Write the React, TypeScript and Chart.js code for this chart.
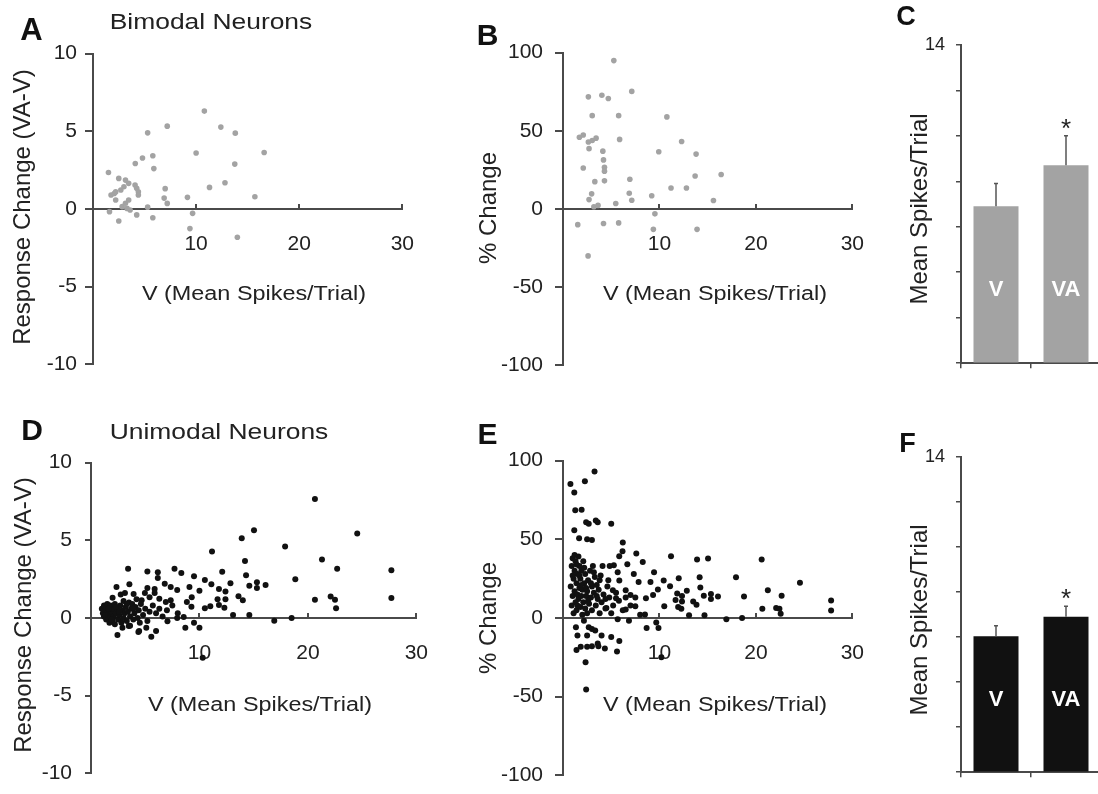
import React, { useEffect, useRef } from "react";
import { Chart, registerables } from "chart.js";
Chart.register(...registerables);

const FONT = "'Liberation Sans', Arial, Helvetica, sans-serif";
const TEXT = "#222";
const AXIS = "#4a4a4a";
const GRAY = "#a3a3a3";
const BLACK = "#111";

// ---------- DATA ----------
// Panel A: bimodal neurons, V (mean spikes/trial) vs response change (VA-V)
const bimodalChange: [number, number][] = [
  [1.5, 2.35], [1.6, -0.17], [1.75, 0.9], [2.06, 1.0], [2.2, 1.1], [2.2, 0.58], [2.5, 1.97], [2.5, -0.77],
  [2.7, 1.22], [2.83, 0.15], [3.0, 1.43], [3.15, 1.86], [3.15, 0.37], [3.3, 0.04], [3.46, 1.65], [3.46, 0.58],
  [3.6, -0.06], [4.08, 1.54], [4.1, 2.93], [4.24, 1.33], [4.24, -0.38], [4.4, 1.11], [4.4, 0.9], [4.8, 3.28],
  [5.3, 4.9], [5.3, 0.12], [5.8, 3.43], [5.8, -0.56], [5.9, 2.6], [6.9, 0.7], [7.0, 1.31], [7.2, 5.33],
  [7.2, 0.36], [9.16, 0.75], [9.4, -1.26], [9.66, -0.28], [10.0, 3.6], [10.8, 6.3], [11.3, 1.39], [12.4, 5.27],
  [12.8, 1.69], [13.75, 2.89], [13.8, 4.88], [14.0, -1.82], [15.7, 0.79], [16.6, 3.64],
];

// Panel B: bimodal neurons, V vs % change
const bimodalPct: [number, number][] = [
  [1.53, -10], [1.7, 45.9], [2.1, 47.3], [2.1, 26.2], [2.6, -30], [2.63, 71.7], [2.63, 42.8], [2.7, 38.6],
  [2.7, 6.0], [2.97, 9.7], [3.03, 59.7], [3.03, 43.8], [3.2, 1.4], [3.3, 17.5], [3.43, 45.3], [3.63, 2.3],
  [4.03, 72.7], [4.13, 37.0], [4.2, 31.4], [4.2, -9.3], [4.3, 26.7], [4.3, 24.2], [4.3, 18.0], [4.7, 70.7],
  [5.27, 94.9], [5.47, 3.5], [5.77, 59.7], [5.77, -8.9], [5.87, 44.5], [6.87, 10.1], [6.93, 19.0], [7.13, 75.2],
  [7.13, 5.6], [9.2, 8.5], [9.37, -13.0], [9.53, -3.1], [9.93, 36.6], [10.77, 58.9], [11.2, 13.4], [12.3, 43.2],
  [12.8, 13.4], [13.7, 21.1], [13.8, 35.1], [13.9, -13.0], [15.6, 5.4], [16.4, 22.1],
];

// Panel D: unimodal neurons, V vs response change (VA-V)
const unimodalChange: [number, number][] = [
  [20.65, 7.66], [24.55, 5.44], [15.03, 5.65], [13.9, 5.13], [11.16, 4.28], [17.9, 4.6], [21.3, 3.77], [22.7, 3.17],
  [27.7, 3.08], [14.2, 3.66], [12.1, 2.98], [14.3, 2.75], [18.84, 2.5], [11.1, 2.17], [12.86, 2.24], [14.6, 2.07],
  [15.3, 2.3], [15.3, 1.93], [16.1, 2.13], [11.8, 1.86], [12.4, 1.7], [11.67, 1.2], [12.4, 1.2], [13.6, 1.4],
  [14.0, 1.14], [20.65, 1.18], [22.1, 1.39], [22.5, 1.18], [22.6, 0.62], [27.7, 1.28], [11.8, 0.83], [11.0, 0.76],
  [12.3, 0.66], [13.1, 0.2], [14.6, 0.2], [16.9, -0.17], [18.5, 0.0], [10.3, -2.55],
  [3.42, 3.17], [5.2, 3.0], [6.16, 2.94], [7.7, 3.17], [8.33, 2.9], [9.5, 2.69], [6.16, 2.58], [10.5, 2.44],
  [2.35, 2.0], [3.54, 2.17], [6.8, 2.21], [7.35, 2.0], [7.95, 1.8], [9.08, 2.0], [10.0, 1.76], [5.2, 1.93],
  [5.87, 1.86], [4.97, 1.61], [5.87, 1.61], [2.74, 1.51], [3.13, 1.61], [3.93, 1.55], [9.29, 1.34], [8.84, 1.03],
  [10.5, 0.62], [9.26, 0.72], [6.3, 1.24], [6.9, 1.03], [7.35, 1.14], [5.4, 1.34], [4.67, 1.14], [1.99, 1.3],
  [2.44, -1.1], [4.44, -0.83], [5.1, -0.62], [5.56, -1.2], [6.0, -0.83], [8.7, -0.62], [9.5, -0.31], [10.0, -0.62],
  [7.05, -0.21], [7.95, 0.0], [8.55, 0.06], [3.48, -0.52], [2.9, -0.62], [4.37, -0.9],
  [1.0, 0.6], [1.1, 0.3], [1.2, 0.8], [1.2, 0.1], [1.3, 0.5], [1.4, -0.1], [1.4, 0.7], [1.5, 0.3],
  [1.5, 0.9], [1.6, 0.0], [1.7, 0.5], [1.7, -0.3], [1.8, 0.2], [1.8, 0.8], [1.9, 0.4], [2.0, -0.2],
  [2.0, 0.6], [2.1, 0.1], [2.2, 0.9], [2.2, -0.4], [2.3, 0.3], [2.4, 0.6], [2.5, -0.1], [2.6, 0.2],
  [2.7, 0.8], [2.8, -0.3], [2.9, 0.5], [3.0, 0.0], [3.0, 1.1], [3.1, 0.3], [3.2, 0.7], [3.3, -0.2],
  [3.4, 0.4], [3.5, 1.0], [3.6, 0.1], [3.6, -0.5], [3.7, 0.6], [3.8, 0.9], [3.9, -0.1], [4.0, 0.3],
  [4.1, 0.7], [4.2, 1.2], [4.3, 0.0], [4.4, 0.5], [4.6, 0.9], [4.8, 0.2], [5.0, 0.6], [5.2, -0.2],
  [5.4, 0.4], [5.7, 0.8], [6.0, 0.3], [6.3, 0.6], [6.6, 0.1], [7.0, 0.5], [7.5, 0.8], [8.0, 0.3],
  [1.3, 0.2], [1.6, 0.6], [1.9, -0.1], [2.3, 0.7], [2.6, 0.4], [3.3, 0.9], [3.9, 0.6], [4.5, -0.3],
];

// Panel E: unimodal neurons, V vs % change
const unimodalPct: [number, number][] = [
  [3.27, 93.1], [2.27, 86.9], [0.77, 85.1], [1.17, 79.8], [1.27, 68.4], [1.93, 68.7], [2.4, 60.9], [2.67, 59.8],
  [3.4, 61.9], [3.6, 60.9], [5.0, 59.8], [1.17, 55.7], [1.67, 50.6], [2.5, 50.0], [3.0, 49.6], [6.2, 47.9],
  [6.17, 42.4], [7.6, 40.9], [11.2, 39.3], [8.27, 35.6], [5.83, 39.3], [5.27, 33.5], [6.67, 34.2], [4.84, 33.1],
  [9.44, 29.0], [5.67, 29.0], [7.34, 28.0], [10.44, 23.9], [9.07, 22.8], [7.84, 22.8], [5.84, 23.9], [11.1, 20.2],
  [9.84, 18.1], [8.6, 12.6], [9.34, 14.6], [10.5, 7.4], [7.5, 7.4], [6.5, 5.4], [4.5, 6.4], [5.5, 12.6],
  [6.5, 17.7], [5.17, 17.7], [7.0, 14.6], [8.5, 2.3], [6.84, -1.8], [5.67, -0.8], [8.67, -6.3], [9.67, -2.8],
  [9.9, -6.3], [10.2, -25],
  [1.34, -5.9], [1.5, -11.1], [2.67, -5.9], [3.0, -7.0], [2.5, -11.1], [3.34, -8.0], [4.0, -11.1], [5.0, -12.1],
  [3.6, -16.2], [5.84, -14.6], [1.4, -20.3], [1.84, -18.3], [2.5, -18.3], [3.0, -17.9], [3.67, -17.9], [4.34, -19.3],
  [5.6, -21.3], [2.34, -28.1], [2.4, -45.4], [2.17, -1.8],
  [13.9, 37.2], [15.04, 37.8], [20.6, 37.2], [12.0, 25.3], [14.17, 25.9], [17.94, 25.9], [24.57, 22.4], [14.24, 19.4],
  [12.84, 17.3], [21.24, 17.7], [11.84, 15.6], [12.34, 14.0], [14.6, 14.2], [15.34, 15.2], [15.34, 12.1], [16.07, 13.6],
  [18.77, 13.6], [22.67, 14.2], [27.8, 11.1], [27.8, 4.7], [11.67, 11.5], [12.34, 10.5], [13.5, 10.5], [13.84, 8.4],
  [11.94, 7.0], [12.27, 5.8], [20.67, 5.8], [22.1, 6.4], [22.44, 5.8], [22.57, 2.7], [13.07, 1.8], [14.67, 1.7],
  [16.94, -0.8], [18.57, 0.0],
  [0.8, 20], [0.9, 8], [0.9, 33], [1.0, 14], [1.0, 38], [1.1, 3], [1.1, 25], [1.2, 17],
  [1.2, 30], [1.3, 36], [1.3, 10], [1.4, 22], [1.4, 5], [1.5, 28], [1.5, 15], [1.6, 39],
  [1.6, 12], [1.7, 19], [1.7, 33], [1.8, 7], [1.8, 25], [1.9, 14], [1.9, 30], [2.0, 2],
  [2.0, 18], [2.1, 36], [2.1, 10], [2.2, 22], [2.3, 6], [2.3, 28], [2.4, 14], [2.5, 17],
  [2.5, 3], [2.6, 24], [2.7, 9], [2.8, 30], [2.9, 13], [3.0, 20], [3.0, 5], [3.1, 33],
  [3.2, 16], [3.3, 26], [3.4, 8], [3.5, 21], [3.6, 12], [3.7, 18], [3.8, 3], [3.9, 27],
  [4.0, 10], [4.2, 15], [4.4, 6], [4.6, 20], [4.8, 13], [5.0, 3], [5.2, 8], [5.5, 16],
  [5.8, 11], [6.2, 5], [6.5, 13], [7.0, 8], [7.5, 13], [8.0, 2],
  [1.0, 27], [1.2, 40], [1.4, 34], [1.5, 8], [1.7, 27], [1.9, 21], [2.2, 32], [2.4, 19],
  [2.6, 11], [2.9, 22], [3.2, 29], [3.5, 14], [3.8, 24], [4.1, 33], [4.4, 12], [4.7, 24],
];

// Panels C and F: mean spikes/trial
const barCategories = ["V", "VA"];
const bimodalMeans = [6.9, 8.7];
const bimodalErrTop = [7.9, 10.0];
const unimodalMeans = [6.03, 6.9];
const unimodalErrTop = [6.5, 7.37];
const significance = ["", "*"];

// ---------- CHART HELPERS ----------
type Box = { L: number; R: number; T: number; B: number };
const WY = 80;
const PAD = { top: 20, bottom: 20, left: 0, right: 30 };

function ChartCanvas({ left, top, width, height, make }: { left: number; top: number; width: number; height: number; make: () => any }) {
  const ref = useRef<HTMLCanvasElement>(null);
  useEffect(() => {
    const chart = new Chart(ref.current as HTMLCanvasElement, make());
    return () => chart.destroy();
  }, []);
  return (
    <canvas ref={ref} width={width} height={height}
      style={{ position: "absolute", left, top, width, height }} />
  );
}

function Scatter({ box, points, color, radius, yMin, yMax, yStep, yTickLen, yTickPad }: {
  box: Box; points: [number, number][]; color: string; radius: number;
  yMin: number; yMax: number; yStep: number; yTickLen: number; yTickPad: number;
}) {
  const width = box.R - box.L + WY + PAD.left + PAD.right;
  const height = box.B - box.T + PAD.top + PAD.bottom;
  const make = () => ({
    type: "scatter",
    data: {
      datasets: [{
        data: points.map(([x, y]) => ({ x, y })),
        backgroundColor: color,
        pointRadius: radius,
        pointBorderWidth: 0,
        borderWidth: 0,
      }],
    },
    options: {
      responsive: false,
      animation: false,
      layout: { padding: PAD },
      plugins: { legend: { display: false }, tooltip: { enabled: false } },
      scales: {
        x: {
          type: "linear", min: 0, max: 30, position: { y: 0 },
          ticks: {
            stepSize: 10, padding: 29, color: TEXT, maxRotation: 0, autoSkip: false,
            font: { family: FONT, size: 21 },
            callback: (v: number) => (v === 0 ? "" : String(v)),
          },
          grid: { display: true, drawOnChartArea: false, drawTicks: true, tickLength: -6, color: AXIS, lineWidth: 2 },
          border: { display: true, color: AXIS, width: 2 },
        },
        y: {
          type: "linear", min: yMin, max: yMax, position: "left",
          afterFit: (s: any) => { s.width = WY; },
          ticks: { stepSize: yStep, padding: yTickPad, color: TEXT, font: { family: FONT, size: 21 } },
          grid: { display: true, drawOnChartArea: false, drawTicks: true, tickLength: yTickLen, color: AXIS, lineWidth: 2 },
          border: { display: true, color: AXIS, width: 2 },
        },
      },
    },
  });
  return <ChartCanvas left={box.L - WY - PAD.left} top={box.T - PAD.top} width={width} height={height} make={make} />;
}

const BWY = 50;
const BPAD = { top: 20, bottom: 6, left: 0, right: 10 };
const BXH = 8;
const LABEL_VALUE = 3.2;

function Bars({ box, means, errTop, color }: { box: Box; means: number[]; errTop: number[]; color: string }) {
  const width = box.R - box.L + BWY + BPAD.left + BPAD.right;
  const height = box.B - box.T + BPAD.top + BPAD.bottom + BXH;
  const decor = {
    id: "barDecor",
    afterDatasetsDraw(chart: any) {
      const meta = chart.getDatasetMeta(0);
      const ys = chart.scales.y;
      const ctx = chart.ctx;
      meta.data.forEach((bar: any, i: number) => {
        const x = bar.x;
        const eTop = ys.getPixelForValue(errTop[i]);
        ctx.save();
        ctx.strokeStyle = "#555";
        ctx.lineWidth = 1.5;
        ctx.beginPath();
        ctx.moveTo(x, bar.y);
        ctx.lineTo(x, eTop);
        ctx.moveTo(x - 2, eTop);
        ctx.lineTo(x + 2, eTop);
        ctx.stroke();
        ctx.fillStyle = "#fff";
        ctx.font = `bold 22px ${FONT}`;
        ctx.textAlign = "center";
        ctx.textBaseline = "middle";
        ctx.fillText(barCategories[i], x, ys.getPixelForValue(LABEL_VALUE));
        if (significance[i]) {
          ctx.fillStyle = TEXT;
          ctx.font = `26px ${FONT}`;
          ctx.textBaseline = "alphabetic";
          ctx.fillText(significance[i], x, eTop + 1);
        }
        ctx.restore();
      });
    },
  };
  const make = () => ({
    type: "bar",
    data: {
      labels: barCategories,
      datasets: [{ data: means, backgroundColor: color, barPercentage: 0.643, categoryPercentage: 1 }],
    },
    options: {
      responsive: false,
      animation: false,
      layout: { padding: BPAD },
      plugins: { legend: { display: false }, tooltip: { enabled: false } },
      scales: {
        x: {
          type: "category", position: "bottom", offset: true,
          afterFit: (s: any) => { s.height = BXH; },
          ticks: { display: false },
          grid: { display: true, offset: true, drawOnChartArea: false, drawTicks: true, tickLength: 5, color: AXIS, lineWidth: 1.5 },
          border: { display: true, color: AXIS, width: 2 },
        },
        y: {
          type: "linear", min: 0, max: 14, position: "left",
          afterFit: (s: any) => { s.width = BWY; },
          ticks: {
            stepSize: 2, padding: 11, color: TEXT, font: { family: FONT, size: 18 },
            callback: (v: number) => (v === 14 ? "14" : ""),
          },
          grid: { display: true, drawOnChartArea: false, drawTicks: true, tickLength: 5, color: AXIS, lineWidth: 1.5 },
          border: { display: true, color: AXIS, width: 2 },
        },
      },
    },
    plugins: [decor],
  });
  return <ChartCanvas left={box.L - BWY - BPAD.left} top={box.T - BPAD.top} width={width} height={height} make={make} />;
}

function Txt({ x, y, text, size, bold, rot = 0, sx = 1, color = TEXT }: {
  x: number; y: number; text: string; size: number; bold?: boolean; rot?: number; sx?: number; color?: string;
}) {
  return (
    <div style={{
      position: "absolute", left: x, top: y,
      transform: `translate(-50%, -50%) rotate(${rot}deg) scaleX(${sx})`,
      fontFamily: FONT, fontSize: size, fontWeight: bold ? 700 : 400, lineHeight: 1,
      whiteSpace: "nowrap", color,
    }}>{text}</div>
  );
}

export default function App() {
  return (
    <div style={{ position: "absolute", left: 0, top: 0, width: 1098, height: 794, overflow: "hidden", background: "#fff" }}>
      <Scatter box={{ L: 93, R: 413, T: 53, B: 365 }} points={bimodalChange} color={GRAY} radius={2.8}
        yMin={-10} yMax={10} yStep={5} yTickLen={8} yTickPad={8} />
      <Scatter box={{ L: 563, R: 863, T: 48, B: 370 }} points={bimodalPct} color={GRAY} radius={2.8}
        yMin={-100} yMax={100} yStep={50} yTickLen={8} yTickPad={12} />
      <Bars box={{ L: 961, R: 1101, T: 43, B: 371 }} means={bimodalMeans} errTop={bimodalErrTop} color={GRAY} />
      <Scatter box={{ L: 91, R: 427, T: 457, B: 779 }} points={unimodalChange} color={BLACK} radius={3}
        yMin={-10} yMax={10} yStep={5} yTickLen={6} yTickPad={13} />
      <Scatter box={{ L: 563, R: 863, T: 456, B: 780 }} points={unimodalPct} color={BLACK} radius={3}
        yMin={-100} yMax={100} yStep={50} yTickLen={8} yTickPad={12} />
      <Bars box={{ L: 961, R: 1101, T: 455, B: 780 }} means={unimodalMeans} errTop={unimodalErrTop} color={BLACK} />

      <Txt x={31.5} y={29} text="A" size={31} bold color="#111" />
      <Txt x={210.5} y={22} text="Bimodal Neurons" size={22} sx={1.2} />
      <Txt x={22} y={207} text="Response Change (VA-V)" size={24} rot={-90} />
      <Txt x={254} y={293} text="V (Mean Spikes/Trial)" size={20} sx={1.17} />

      <Txt x={487.5} y={35} text="B" size={30} bold color="#111" />
      <Txt x={488} y={208} text="% Change" size={24} rot={-90} />
      <Txt x={714.5} y={293} text="V (Mean Spikes/Trial)" size={20} sx={1.17} />

      <Txt x={906} y={16} text="C" size={27} bold color="#111" />
      <Txt x={919} y={209} text="Mean Spikes/Trial" size={24} rot={-90} />

      <Txt x={32} y={430} text="D" size={30} bold color="#111" />
      <Txt x={219} y={432} text="Unimodal Neurons" size={22} sx={1.2} />
      <Txt x={22.5} y={615} text="Response Change (VA-V)" size={24} rot={-90} />
      <Txt x={259.5} y={704} text="V (Mean Spikes/Trial)" size={20} sx={1.17} />

      <Txt x={487.5} y={434} text="E" size={30} bold color="#111" />
      <Txt x={488} y={617.5} text="% Change" size={24} rot={-90} />
      <Txt x={714.5} y={704} text="V (Mean Spikes/Trial)" size={20} sx={1.17} />

      <Txt x={907.5} y={442.5} text="F" size={27} bold color="#111" />
      <Txt x={919} y={620} text="Mean Spikes/Trial" size={24} rot={-90} />
    </div>
  );
}
